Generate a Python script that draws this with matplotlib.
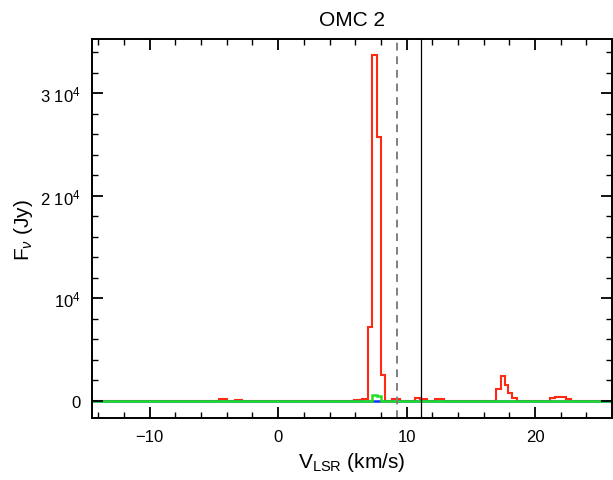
import matplotlib
matplotlib.use("Agg")
import matplotlib.pyplot as plt
import numpy as np
from matplotlib.ticker import MultipleLocator, FixedLocator, FixedFormatter

# spectra (channel edges in km/s, flux in Jy)
red_edges = [-14.5, -4.6, -4.0, -3.4, -2.8, 5.9, 6.5, 7.0, 7.33, 7.66, 8.0, 8.33,
             8.9, 9.5, 10.65, 11.07, 11.6, 12.2, 12.9, 17.0, 17.33, 17.67, 17.93,
             18.24, 18.57, 21.2, 21.55, 22.4, 22.8, 26.0]
red_flux = [0, 150, 0, 80, 0, 100, 200, 7190, 33730, 25760, 2540, 0,
            150, 0, 300, 150, 0, 200, 0, 1140, 2380, 1530, 720,
            260, 0, 230, 330, 200, 0]

green_edges = [-14.5, 7.33, 7.66, 8.0, 26.0]
green_flux = [0, 550, 400, 0]

blue_edges = [-14.5, 7.0, 8.0, 26.0]
blue_flux = [0, 0, 0]

v_dashed = 9.25
v_solid = 11.15

ytick_vals = [0, 10000, 20000, 30000]
ytick_labels = ['0', r'10$^4$', r'2 10$^4$', r'3 10$^4$']

plt.rcParams['font.family'] = ['Liberation Sans', 'DejaVu Sans']
plt.rcParams['mathtext.fontset'] = 'custom'
plt.rcParams['mathtext.rm'] = 'Liberation Sans'
plt.rcParams['mathtext.it'] = 'Liberation Sans:italic'

fig = plt.figure(figsize=(6.13, 4.81), dpi=100)
ax = fig.add_axes([92/613, 1-419/481, 520/613, 379/481])

ax.stairs(red_flux, red_edges, color='#ff2a14', lw=1.5)
ax.stairs(blue_flux, blue_edges, color='#1030ff', lw=1.8)
ax.stairs(green_flux, green_edges, color='#22e022', lw=1.8)

ax.axvline(v_dashed, color='#808080', lw=1.4, ls=(0, (4, 3)))
ax.axvline(v_solid, color='black', lw=0.9)

ax.set_xlim(-14.5, 26)
ax.set_ylim(-1700, 35300)

ax.xaxis.set_major_locator(MultipleLocator(10))
ax.xaxis.set_minor_locator(MultipleLocator(2))
ax.yaxis.set_major_locator(FixedLocator(ytick_vals))
ax.yaxis.set_major_formatter(FixedFormatter(ytick_labels))
ax.yaxis.set_minor_locator(MultipleLocator(2000))

ax.tick_params(which='both', direction='in', top=True, right=True, labelsize=12)
ax.tick_params(which='major', length=8, width=1.3, pad=8)
ax.tick_params(which='minor', length=4, width=1.0)
for s in ax.spines.values():
    s.set_linewidth(1.4)

ax.set_xlabel(r'V$_{\rm LSR}$ (km/s)', fontsize=15, labelpad=4)
ax.set_ylabel(r'F$_\nu$ (Jy)', fontsize=15, labelpad=4)
ax.set_title('OMC 2', fontsize=15, pad=10)

fig.savefig('out.png', dpi=100)
